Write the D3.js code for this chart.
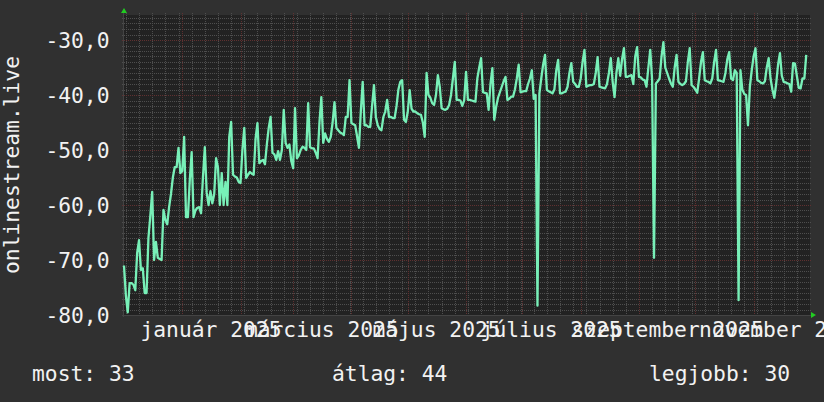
<!DOCTYPE html>
<html>
<head>
<meta charset="utf-8">
<title>onlinestream.live</title>
<style>
  body { margin: 0; background: #303030; }
  svg  { display: block; }
</style>
</head>
<body>
<script src="https://cdn.jsdelivr.net/npm/d3@7/dist/d3.min.js"></script>
<script>

// daily values, starting 2024-12-01
var startDate = new Date(Date.UTC(2024, 11, 1));
var endDate   = new Date(Date.UTC(2025, 11, 1));

var values = [
  -71, -76.5, -79.5, -74.2, -74.2, -74.5, -75.5,
  -68.7, -66.4, -71.8, -71.5, -76, -76, -66,
  -62, -57.6, -70, -66.7, -69.6, -69.8, -70,
  -60.9, -62.7, -63.5, -60.4, -58, -55, -53.1,
  -53.1, -49.6, -54.2, -53.8, -47.6, -62.2, -62.2,
  -55.5, -50.4, -62.2, -61, -60.5, -60.4, -61.5,
  -55, -49.5, -57.8, -60, -57.5, -59.7, -58,
  -51.5, -53.2, -60, -54.2, -60, -55.8, -60,
  -47.6, -44.9, -54.5, -54.8, -55, -55.8, -56,
  -50, -46, -55.1, -54.5, -54, -54.3, -54.5,
  -48, -45.1, -52.4, -52, -51.8, -52.6, -49,
  -46, -44, -50.5, -50.8, -51.8, -50.2, -51.8,
  -50, -42.7, -48.7, -49.6, -49, -52, -53.3,
  -42.4, -51.5, -51, -50, -49.4, -49.6, -50,
  -41.5, -49.5, -49.7, -49.7, -50.5, -51.5, -45,
  -40.4, -48.7, -47, -48, -48.5, -47.6, -45,
  -41.3, -46, -46.4, -46.8, -47, -47.3, -44,
  -44, -37.3, -45.1, -45.3, -45.5, -47.5, -49.6,
  -43, -37.6, -45.5, -45.5, -45.8, -45.8, -42,
  -38.2, -44, -45.5, -46.2, -46.4, -44, -43,
  -40.9, -44, -44, -44.2, -44.2, -42, -39,
  -37.6, -37.3, -44.5, -44.9, -43, -39.1, -42.5,
  -43, -43, -43.3, -43.5, -43.6, -45, -47.6,
  -36, -40, -40.5, -41.5, -41.8, -40, -36.4,
  -38.5, -42.4, -42.6, -42.7, -42.5, -41.8, -40,
  -37, -34, -40.9, -40.9, -41, -42, -41,
  -35.8, -40.9, -40.9, -41, -41.1, -41.2, -37,
  -35, -33.3, -39.5, -39.6, -39.7, -42.7, -38,
  -35.1, -44.5, -42.2, -40.5, -39.5, -38.5, -37.5,
  -36.7, -40.9, -40.7, -40.3, -40.3, -39, -37,
  -34.5, -39.5, -39.4, -39.3, -39.3, -38, -37,
  -35.5, -40.7, -40, -78.3, -39.8, -37, -34.5,
  -32.7, -39.1, -39.3, -39.5, -39.7, -39, -35.5,
  -33.6, -39.7, -39.7, -39.5, -39.4, -38.5, -36,
  -34.2, -37.6, -38, -38.5, -38.5, -37, -34,
  -31.8, -38.5, -38.3, -38.2, -38.2, -38, -36,
  -33.1, -38.5, -38.6, -38.7, -38.8, -38, -36,
  -33.3, -37.6, -40.4, -36, -33.3, -36.5, -33.5,
  -31.5, -36.7, -36.7, -36.5, -36.4, -38, -33,
  -31.3, -36.7, -36.8, -37.2, -37.3, -38.5, -35,
  -31.8, -37.3, -69.6, -37.9, -37.5, -37, -33,
  -30.4, -35, -36, -37, -37.9, -38.5, -35,
  -32.7, -37.6, -38, -38.2, -38, -37.5, -34,
  -31.5, -38.2, -38.5, -39, -39.6, -37, -34,
  -32.2, -37.3, -37.5, -37.6, -37.9, -37, -34,
  -31.8, -37.3, -37.4, -37.5, -37.6, -36, -33.5,
  -32.2, -37, -37.3, -35.5, -36, -77.3, -35.5,
  -39, -39.8, -40, -45.5, -38.5, -35.5, -33,
  -31.5, -37.3, -37.5, -37.8, -37.9, -37.5, -35,
  -33.3, -37, -39, -40.5, -38, -34.5, -32.4,
  -36.5, -37.6, -37.7, -37.9, -38, -39.4, -34.2,
  -34.3, -36.5, -38.7, -38.8, -37, -37, -32.7
];

var yTicks = [-80, -70, -60, -50, -40, -30];
var labelMonths = [
  new Date(Date.UTC(2025, 0, 1)), new Date(Date.UTC(2025, 2, 1)),
  new Date(Date.UTC(2025, 4, 1)), new Date(Date.UTC(2025, 6, 1)),
  new Date(Date.UTC(2025, 8, 1)), new Date(Date.UTC(2025, 10, 1))
];
var monthNames = ["január", "február", "március", "április", "május", "június",
  "július", "augusztus", "szeptember", "október", "november", "december"];
var yTitle = "onlinestream.live";
var legendTexts = ["most: 33", "átlag: 44", "legjobb: 30"];

////----- drawing

var width = 824, height = 402,
    margin = {top: 15, right: 14, bottom: 87, left: 124},
    plotW = width - margin.left - margin.right,
    plotH = height - margin.top - margin.bottom;

var font = "'DejaVu Sans Mono', monospace",
    fontSize = 21.3,
    textColor = "#f2f2f2";

var huLocale = d3.timeFormatLocale({
  dateTime: "%Y. %B %-e., %A %X", date: "%Y. %m. %d.", time: "%H:%M:%S",
  periods: ["de.", "du."],
  days: ["vasárnap", "hétfő", "kedd", "szerda", "csütörtök", "péntek", "szombat"],
  shortDays: ["V", "H", "K", "Sze", "Cs", "P", "Szo"],
  months: monthNames,
  shortMonths: monthNames.map(function(m) { return m.slice(0, 3); })
});
var monthFmt = huLocale.utcFormat("%B %Y");
var numFmt = d3.formatLocale({decimal: ",", thousands: " ", grouping: [3], currency: ["", ""], minus: "-"}).format(".1f");

var x = d3.scaleUtc()
    .domain([startDate, endDate])
    .range([margin.left, margin.left + plotW]);

var y = d3.scaleLinear()
    .domain([-80, -80 + plotH / 5.5])
    .range([margin.top + plotH, margin.top]);

var data = values.map(function(v, i) {
  return {date: d3.utcDay.offset(startDate, i), value: v};
});

var svg = d3.select("body").append("svg")
    .attr("width", width)
    .attr("height", height);

svg.append("rect")
    .attr("width", width).attr("height", height)
    .attr("fill", "#303030");

// canvas
svg.append("rect")
    .attr("x", margin.left).attr("y", margin.top)
    .attr("width", plotW).attr("height", plotH)
    .attr("fill", "#222222");

var grid = svg.append("g").attr("shape-rendering", "crispEdges");

// minor horizontal grid, every 1
var minorY = d3.range(-80, y.domain()[1], 1).filter(function(d) { return d % 10 != 0; });
grid.selectAll(".hmin")
    .data(minorY)
  .enter().append("line")
    .attr("x1", margin.left - 2).attr("x2", margin.left + plotW + 2)
    .attr("y1", function(d) { return Math.round(y(d)) + 0.5; })
    .attr("y2", function(d) { return Math.round(y(d)) + 0.5; })
    .attr("stroke", "#4e4e4e")
    .attr("stroke-dasharray", "1,1");

// minor vertical grid, Mondays
grid.selectAll(".vmin")
    .data(d3.utcMonday.range(startDate, endDate))
  .enter().append("line")
    .attr("x1", function(d) { return Math.round(x(d)) + 0.5; })
    .attr("x2", function(d) { return Math.round(x(d)) + 0.5; })
    .attr("y1", margin.top - 2).attr("y2", margin.top + plotH + 2)
    .attr("stroke", "#4e4e4e")
    .attr("stroke-dasharray", "1,1");

// major grid
grid.selectAll(".hmaj")
    .data(yTicks)
  .enter().append("line")
    .attr("x1", margin.left - 2).attr("x2", margin.left + plotW + 2)
    .attr("y1", function(d) { return Math.round(y(d)) + 0.5; })
    .attr("y2", function(d) { return Math.round(y(d)) + 0.5; })
    .attr("stroke", "#603030")
    .attr("stroke-dasharray", "1,1");

grid.selectAll(".vmaj")
    .data(d3.utcMonth.range(d3.utcDay.offset(startDate, 1), endDate))
  .enter().append("line")
    .attr("x1", function(d) { return Math.round(x(d)) + 0.5; })
    .attr("x2", function(d) { return Math.round(x(d)) + 0.5; })
    .attr("y1", margin.top - 2).attr("y2", margin.top + plotH + 2)
    .attr("stroke", "#603030")
    .attr("stroke-dasharray", "1,1");

// axis lines
grid.append("line")
    .attr("x1", margin.left - 0.5).attr("x2", margin.left - 0.5)
    .attr("y1", margin.top - 3).attr("y2", margin.top + plotH + 2)
    .attr("stroke", "#444444");
grid.append("line")
    .attr("x1", margin.left - 2).attr("x2", margin.left + plotW + 2)
    .attr("y1", margin.top + plotH + 0.5).attr("y2", margin.top + plotH + 0.5)
    .attr("stroke", "#444444");

// arrows
svg.append("path")
    .attr("d", "M" + (margin.left - 3) + "," + (margin.top - 2) + "L" + margin.left + "," + (margin.top - 7) + "L" + (margin.left + 3) + "," + (margin.top - 2) + "Z")
    .attr("fill", "#22cc22");
svg.append("path")
    .attr("d", "M" + (margin.left + plotW + 1) + "," + (margin.top + plotH - 3) + "L" + (margin.left + plotW + 6) + "," + (margin.top + plotH) + "L" + (margin.left + plotW + 1) + "," + (margin.top + plotH + 3) + "Z")
    .attr("fill", "#22cc22");

// y axis labels
var yAxis = svg.append("g")
    .attr("transform", "translate(" + margin.left + ",0)")
    .call(d3.axisLeft(y).tickValues(yTicks).tickSize(0).tickPadding(14.5).tickFormat(numFmt));
yAxis.select(".domain").remove();
yAxis.attr("font-size", fontSize).attr("font-family", font);
yAxis.selectAll("text").attr("fill", textColor).attr("dy", "0.36em");

// x axis labels, centered half a month after the month start
var xAxis = svg.append("g")
    .attr("transform", "translate(0," + (margin.top + plotH) + ")")
    .call(d3.axisBottom(x)
      .tickValues(labelMonths.map(function(d) { return d3.utcDay.offset(d, 15); }))
      .tickSize(0)
      .tickFormat(function(d) { return monthFmt(d3.utcDay.offset(d, -15)); }));
xAxis.select(".domain").remove();
xAxis.attr("font-size", fontSize).attr("font-family", font);
xAxis.selectAll("text").attr("fill", textColor).attr("y", 22).attr("dy", 0);

// y title
svg.append("text")
    .attr("transform", "translate(18.5," + (margin.top + plotH / 2) + ") rotate(-90)")
    .attr("text-anchor", "middle")
    .attr("font-family", font).attr("font-size", fontSize)
    .attr("fill", textColor)
    .text(yTitle);

// series
var line = d3.line()
    .x(function(d) { return x(d.date); })
    .y(function(d) { return y(d.value); });

svg.append("path")
    .datum(data)
    .attr("d", line)
    .attr("fill", "none")
    .attr("stroke", "#78f0b8")
    .attr("stroke-width", 2.3)
    .attr("stroke-linejoin", "round");

// legend
var legendX = [32, 332, 649];
svg.selectAll(".legend")
    .data(legendTexts)
  .enter().append("text")
    .attr("x", function(d, i) { return legendX[i]; })
    .attr("y", 381)
    .attr("font-family", font).attr("font-size", fontSize)
    .attr("fill", textColor)
    .text(function(d) { return d; });

</script>
</body>
</html>
